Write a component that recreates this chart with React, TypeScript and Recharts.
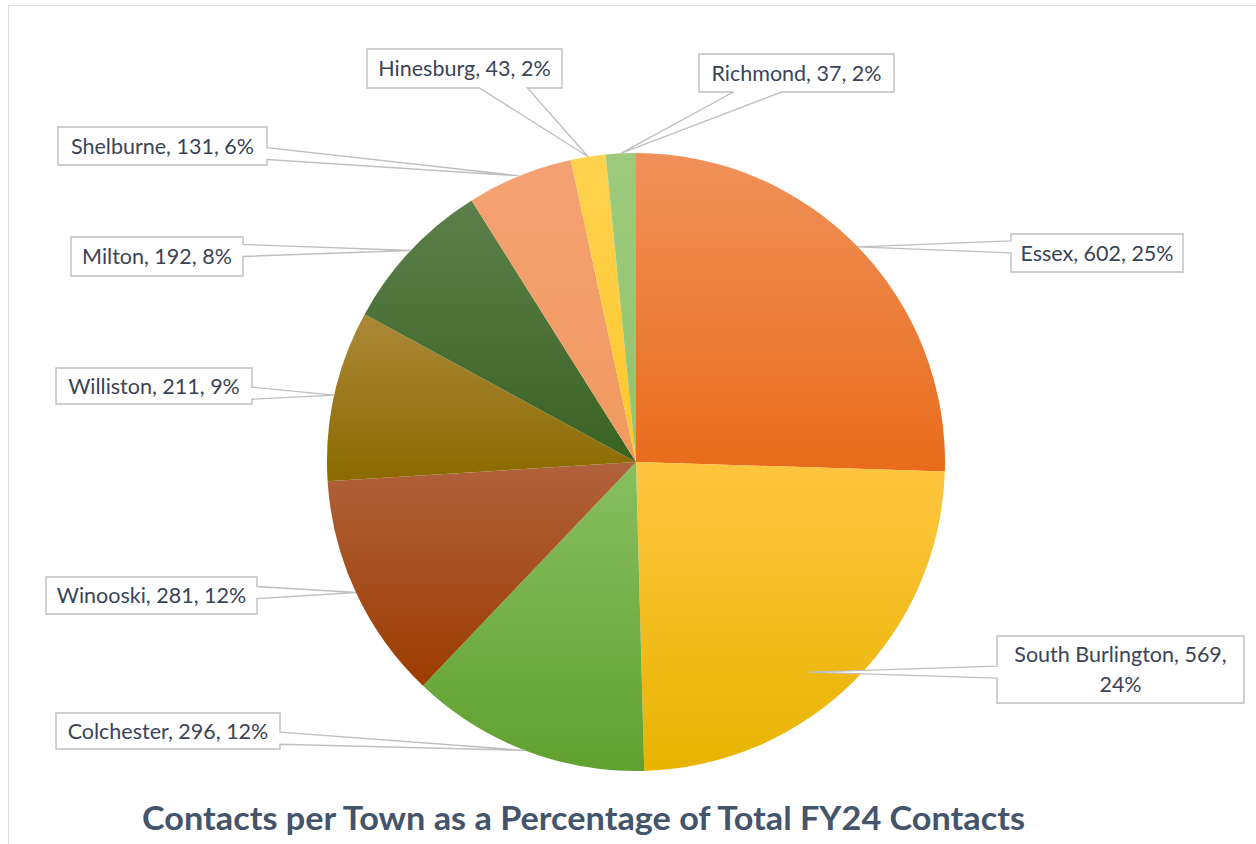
import { PieChart, Pie, Cell } from 'recharts'

const towns = ['Essex', 'South Burlington', 'Colchester', 'Winooski', 'Williston', 'Milton', 'Shelburne', 'Hinesburg', 'Richmond']
const contacts = [602, 569, 296, 281, 211, 192, 131, 43, 37]
const pctLabels = ['25%', '24%', '12%', '12%', '9%', '8%', '6%', '2%', '2%']

const topColors = ['#F0915A', '#FFC540', '#88BF60', '#B0623D', '#AC8838', '#5D804C', '#F4A272', '#FFD24F', '#9DCA7D']
const bottomColors = ['#E86C1A', '#E8B400', '#60A030', '#9C3C00', '#8C6A00', '#3A6222', '#F19A60', '#FFC72C', '#93C46E']

// callout boxes, page coordinates
const boxes = [
  { x: 1011, y: 234, w: 172, h: 38, side: 'left', tip: 1, turn: 0 },
  { x: 997, y: 636, w: 247, h: 67, side: 'left', tip: 0.88, turn: -5.5 },
  { x: 56, y: 713, w: 224, h: 36, side: 'right', tip: 1, turn: 0 },
  { x: 46, y: 577, w: 211, h: 37, side: 'right', tip: 1, turn: 0 },
  { x: 56, y: 368, w: 196, h: 36, side: 'right', tip: 1, turn: 0 },
  { x: 71, y: 237, w: 172, h: 39, side: 'right', tip: 1, turn: 0 },
  { x: 58, y: 127, w: 209, h: 38, side: 'right', tip: 1, turn: 0 },
  { x: 367, y: 49, w: 195, h: 39, side: 'bottom', tip: 1, turn: 0 },
  { x: 699, y: 54, w: 195, h: 38, side: 'bottom', tip: 1, turn: 0 },
]

const data = towns.map((t, i) => ({ name: t, value: contacts[i], pct: pctLabels[i] }))

const RAD = Math.PI / 180
const clamp = (v: number, a: number, b: number) => Math.max(a, Math.min(b, v))

function Callout(props: any) {
  const { cx, cy, midAngle, outerRadius, index } = props
  const b = boxes[index]
  const r = outerRadius * b.tip
  const ang = midAngle + b.turn
  const tx = cx + r * Math.cos(-ang * RAD)
  const ty = cy + r * Math.sin(-ang * RAD)
  const x0 = b.x, y0 = b.y, x1 = b.x + b.w, y1 = b.y + b.h
  let d = ''
  if (b.side === 'bottom') {
    const c = clamp(tx, x0 + b.w * 0.3, x1 - b.w * 0.3)
    d = `M${x0},${y0} L${x1},${y0} L${x1},${y1} L${c + 24},${y1} L${tx},${ty} L${c - 24},${y1} L${x0},${y1} Z`
  } else if (b.side === 'left') {
    const c = clamp(ty, y0 + b.h * 0.3, y1 - b.h * 0.3)
    d = `M${x0},${y0} L${x1},${y0} L${x1},${y1} L${x0},${y1} L${x0},${c + 6} L${tx},${ty} L${x0},${c - 6} Z`
  } else {
    const c = clamp(ty, y0 + b.h * 0.3, y1 - b.h * 0.3)
    d = `M${x0},${y0} L${x1},${y0} L${x1},${c - 6} L${tx},${ty} L${x1},${c + 6} L${x1},${y1} L${x0},${y1} Z`
  }
  const name = towns[index]
  const val = contacts[index]
  const pct = pctLabels[index]
  const mx = x0 + b.w / 2
  const my = y0 + b.h / 2
  const textStyle = { fontFamily: 'Lato, sans-serif', fontSize: 21.5, fill: '#3A4456' }
  return (
    <g>
      <path d={d} fill="#fff" stroke="#BFBFBF" strokeWidth={1.4} strokeLinejoin="miter" />
      {b.h > 50 ? (
        <text x={mx} textAnchor="middle" style={textStyle}>
          <tspan x={mx} y={my - 15 + 7.5}>{`${name}, ${val},`}</tspan>
          <tspan x={mx} y={my + 15 + 7.5}>{pct}</tspan>
        </text>
      ) : (
        <text x={mx} y={my + 7.5} textAnchor="middle" style={textStyle}>
          {`${name}, ${val}, ${pct}`}
        </text>
      )}
    </g>
  )
}

export default function App() {
  return (
    <div style={{ position: 'absolute', left: 0, top: 0, width: 1256, height: 844, overflow: 'hidden', background: '#fff' }}>
      <div style={{ position: 'absolute', left: 8, top: 5, width: 1400, height: 1000, border: '1px solid #D9DEE4' }} />
      <div style={{ position: 'absolute', left: 0, top: 0 }}>
        <PieChart width={1256} height={844} margin={{ top: 0, right: 0, bottom: 0, left: 0 }}>
          <defs>
            {towns.map((t, i) => (
              <linearGradient key={t} id={`grad${i}`} x1="0" y1="0" x2="0" y2="1">
                <stop offset="0%" stopColor={topColors[i]} />
                <stop offset="100%" stopColor={bottomColors[i]} />
              </linearGradient>
            ))}
          </defs>
          <Pie
            data={data}
            dataKey="value"
            nameKey="name"
            cx={636}
            cy={462}
            outerRadius={309}
            startAngle={90}
            endAngle={-270}
            stroke="none"
            label={Callout}
            labelLine={false}
            isAnimationActive={false}
          >
            {data.map((d, i) => (
              <Cell key={d.name} fill={`url(#grad${i})`} />
            ))}
          </Pie>
        </PieChart>
      </div>
      <svg width={1256} height={844} style={{ position: 'absolute', left: 0, top: 0, pointerEvents: 'none' }}>
        <text
          x={142}
          y={830}
          textLength={883}
          lengthAdjust="spacingAndGlyphs"
          style={{ fontFamily: 'Lato, sans-serif', fontWeight: 700, fontSize: 33, fill: '#44546A' }}
        >
          Contacts per Town as a Percentage of Total FY24 Contacts
        </text>
      </svg>
    </div>
  )
}
